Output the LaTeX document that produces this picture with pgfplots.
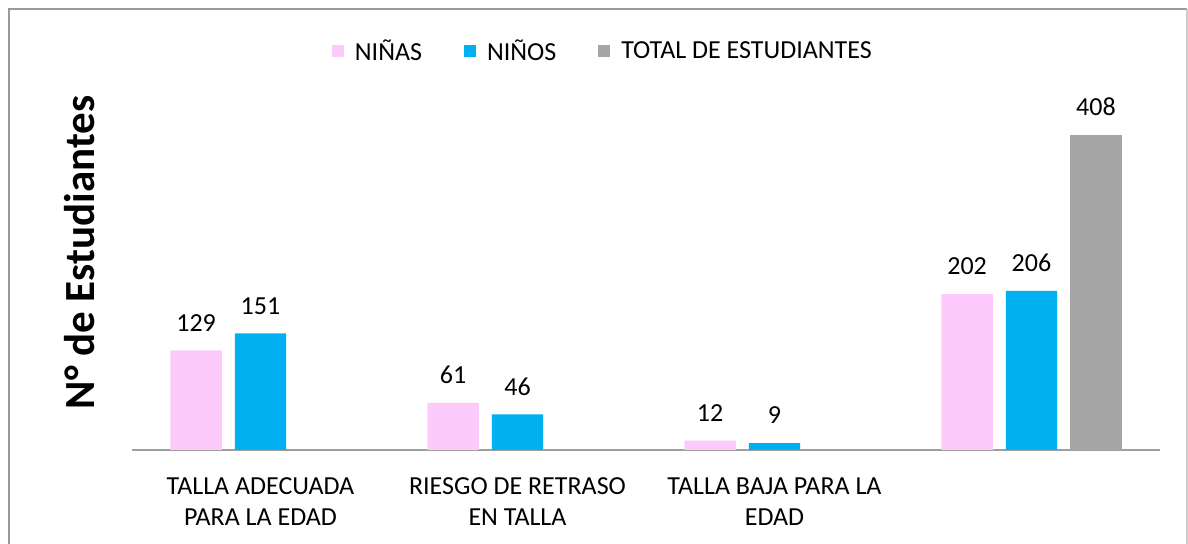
\documentclass[border=0pt]{standalone}
\usepackage{pgfplots}
\pgfplotsset{compat=1.18}
\usepackage{fontspec}
\setmainfont{Carlito}
\definecolor{cpink}{HTML}{FCCBFC}
\definecolor{ccyan}{HTML}{00B0F0}
\definecolor{cgray}{HTML}{A6A6A6}
\begin{document}
\begin{tikzpicture}
\useasboundingbox (0,0) rectangle (594pt,272pt);
\fill[white] (0,0) rectangle (594pt,272pt);
\draw[draw=gray!80, line width=0.6pt] (4.5pt,0) -- (4.5pt,267.5pt) -- (593.5pt,267.5pt);
\draw[draw=gray!40, line width=0.6pt] (593.5pt,267.5pt) -- (593.5pt,0);
\begin{axis}[
  at={(66pt,47pt)}, anchor=south west,
  scale only axis, width=514pt, height=173.7pt,
  xmin=-0.5, xmax=3.5, ymin=0, ymax=450,
  ybar=6.5pt, bar width=25.7pt,
  axis lines*=left,
  x axis line style={-, draw=gray!75, line width=0.8pt},
  y axis line style={draw=none},
  ytick=\empty,
  xtick={0,1,2,3},
  xticklabels={TALLA ADECUADA\\PARA LA EDAD, RIESGO DE RETRASO\\EN TALLA, TALLA BAJA PARA LA\\EDAD, {}},
  major tick length=0pt,
  /pgf/number format/assume math mode=true,
  xticklabel style={align=center, font=\fontsize{13}{15.5}\selectfont, yshift=-10.5pt},
  ylabel={N° de Estudiantes},
  ylabel style={at={(axis description cs:-0.0506,0.5685)}, anchor=center, font=\fontsize{21.5}{24}\selectfont\bfseries},
  nodes near coords,
  every node near coord/.append style={font=\fontsize{13}{16}\selectfont, black, yshift=6pt},
  legend style={at={(axis description cs:0.459,1.148)}, anchor=center, draw=none, fill=none,
    legend columns=3, font=\fontsize{13}{16}\selectfont,
    /tikz/every odd column/.append style={column sep=3.5pt},
    /tikz/every even column/.append style={column sep=19pt}},
  legend image code/.code={\fill[#1] (0pt,-3pt) rectangle (6pt,3pt);},
]
\addplot[fill=cpink, draw=none] coordinates {(0,129) (1,61) (2,12) (3,202)};
\addplot[fill=ccyan, draw=none] coordinates {(0,151) (1,46) (2,9) (3,206)};
\addplot[fill=cgray, draw=none] coordinates {(3,408)};
\legend{NIÑAS, NIÑOS, TOTAL DE ESTUDIANTES}
\end{axis}
\end{tikzpicture}
\end{document}
